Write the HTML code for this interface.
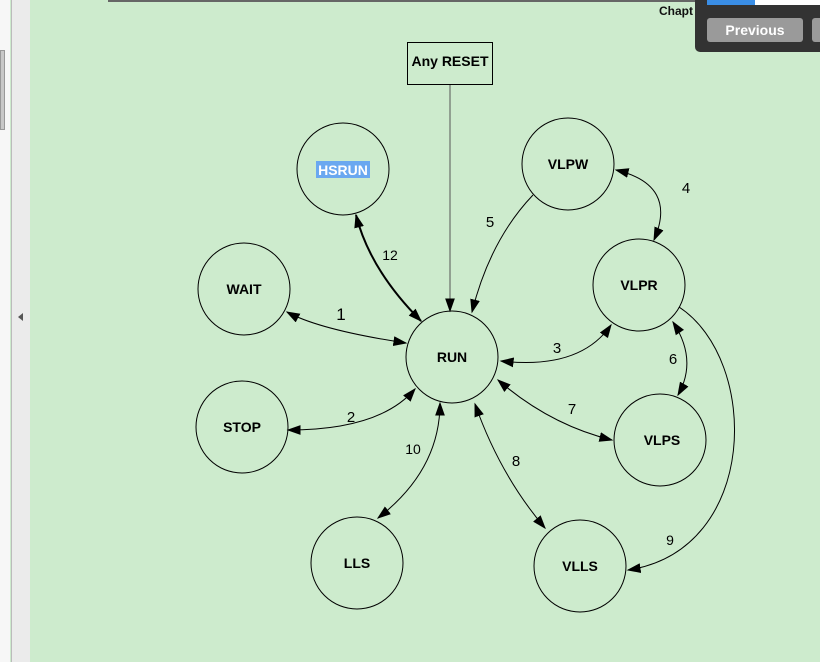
<!DOCTYPE html>
<html><head><style>
body{margin:0;width:820px;height:662px;overflow:hidden;background:#cdebcd;font-family:"Liberation Sans",sans-serif;position:relative}
</style></head><body>
<div style="position:absolute;left:0;top:0;width:10px;height:662px;background:#f7f7f7"></div>
<div style="position:absolute;left:0;top:50px;width:3px;height:78px;background:#c8c8c8;border:1px solid #999"></div>
<div style="position:absolute;left:11px;top:0;width:1px;height:662px;background:#bbb"></div>
<div style="position:absolute;left:12px;top:0;width:18px;height:662px;background:#ebebeb"></div>
<div style="position:absolute;left:18px;top:313px;width:0;height:0;border-top:4px solid transparent;border-bottom:4px solid transparent;border-right:5px solid #555"></div>
<div style="position:absolute;left:108px;top:0;width:590px;height:2px;background:#666"></div>
<div style="position:absolute;left:659px;top:4px;font-size:12px;font-weight:bold;color:#111">Chapt</div>
<div style="position:absolute;left:695px;top:-5px;width:140px;height:57px;background:#333;border-radius:0 0 0 5px"></div>
<div style="position:absolute;left:707px;top:0;width:48px;height:5px;background:#3a8ee6"></div>
<div style="position:absolute;left:755px;top:0;width:65px;height:5px;background:#fff"></div>
<div style="position:absolute;left:707px;top:18px;width:96px;height:24px;background:#9a9a9a;border-radius:3px;color:#fff;font-weight:bold;font-size:14px;text-align:center;line-height:24px">Previous</div>
<div style="position:absolute;left:812px;top:18px;width:20px;height:24px;background:#9a9a9a;border-radius:3px"></div>
<svg width="820" height="662" style="position:absolute;left:0;top:0">
<defs><marker id="a" viewBox="0 0 10 10" refX="9" refY="5" markerWidth="14" markerHeight="14" markerUnits="userSpaceOnUse" orient="auto-start-reverse"><path d="M0,1.5 L10,5 L0,8.5z" fill="#000"/></marker></defs>
<g fill="none" stroke="#000" stroke-width="1">
<rect x="407.5" y="42.5" width="85" height="42"/>
<circle cx="343" cy="169" r="46"/><circle cx="568" cy="164" r="46"/>
<circle cx="244" cy="289" r="46"/><circle cx="639" cy="285" r="46"/>
<circle cx="452" cy="357" r="46"/><circle cx="242" cy="427" r="46"/>
<circle cx="660" cy="440" r="46"/><circle cx="357" cy="563" r="46"/>
<circle cx="580" cy="566" r="46"/>
<path d="M450,85 L450,311" marker-end="url(#a)" stroke="#555"/>
<path d="M533,195 Q490,240 472,312" marker-end="url(#a)"/>
<path d="M616,170 Q678,185 654,240" marker-start="url(#a)" marker-end="url(#a)"/>
<path d="M356,215 Q370,270 421,321" marker-start="url(#a)" marker-end="url(#a)" stroke-width="2"/>
<path d="M287,312 Q320,330 406,343" marker-start="url(#a)" marker-end="url(#a)"/>
<path d="M501,361 Q580,370 611,325" marker-start="url(#a)" marker-end="url(#a)"/>
<path d="M288,430 Q380,430 415,389" marker-start="url(#a)" marker-end="url(#a)"/>
<path d="M498,380 Q550,425 612,440" marker-start="url(#a)" marker-end="url(#a)"/>
<path d="M673,322 Q698,360 678,395" marker-start="url(#a)" marker-end="url(#a)"/>
<path d="M440,403 Q440,470 378,518" marker-start="url(#a)" marker-end="url(#a)"/>
<path d="M475,404 Q500,475 545,528" marker-start="url(#a)" marker-end="url(#a)"/>
<path d="M679,307 C760,360 760,550 628,570" marker-end="url(#a)"/>
</g>
<g font-family="Liberation Sans, sans-serif" font-size="14" font-weight="bold" text-anchor="middle" fill="#000">
<text x="450" y="66">Any RESET</text>
<rect x="316" y="161" width="54" height="17" fill="#6aa8f0"/>
<text x="343" y="175" fill="#fff">HSRUN</text>
<text x="568" y="169">VLPW</text><text x="244" y="294">WAIT</text>
<text x="639" y="290">VLPR</text><text x="452" y="362">RUN</text>
<text x="242" y="432">STOP</text><text x="662" y="445">VLPS</text>
<text x="357" y="568">LLS</text><text x="580" y="571">VLLS</text>
</g>
<g font-family="Liberation Sans, sans-serif" font-size="15" text-anchor="middle" fill="#000">
<text x="490" y="227">5</text><text x="686" y="193">4</text>
<text x="390" y="260" font-size="14">12</text><text x="341" y="320" font-size="17">1</text>
<text x="557" y="353">3</text><text x="351" y="422">2</text>
<text x="572" y="414">7</text><text x="673" y="364">6</text>
<text x="413" y="454" font-size="14">10</text><text x="516" y="466">8</text>
<text x="670" y="545" font-size="14">9</text>
</g>
</svg>
</body></html>
